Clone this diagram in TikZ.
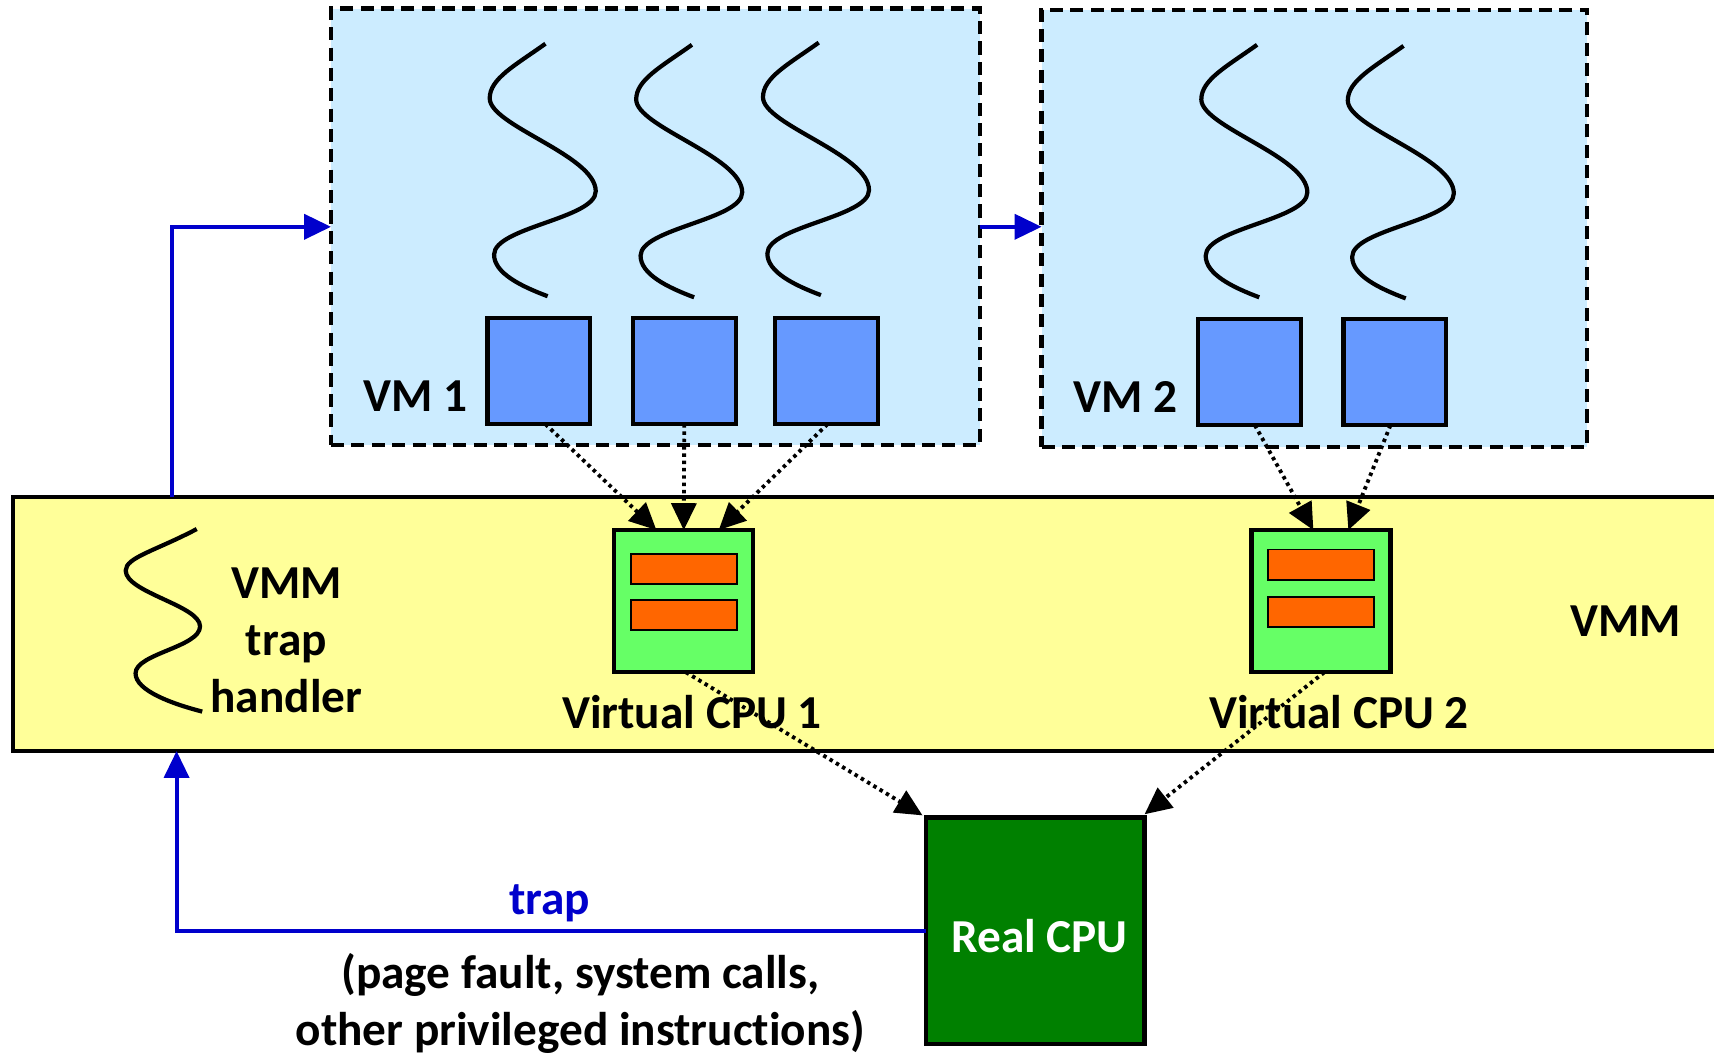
\documentclass[tikz,border=0pt]{standalone}
\usepackage{fontspec}
\setmainfont{Carlito}[Ligatures={NoCommon}]
\usetikzlibrary{arrows.meta,calc}
\definecolor{vmfill}{HTML}{CCECFF}
\definecolor{vmmfill}{HTML}{FFFF99}
\definecolor{sqfill}{HTML}{6699FF}
\definecolor{cpufill}{HTML}{66FF66}
\definecolor{regfill}{HTML}{FF6600}
\definecolor{realfill}{HTML}{008000}
\definecolor{trapblue}{HTML}{0000CC}
\tikzset{
  boxbase/.style={draw=black, line width=1.1pt, inner sep=0pt, outer sep=0pt},
  vmbox/.style={boxbase, fill=vmfill, dash pattern=on 3.4pt off 1.9pt},
  sqbox/.style={boxbase, fill=sqfill, minimum width=0.94cm, minimum height=0.97cm},
  cpubox/.style={boxbase, fill=cpufill, minimum width=1.27cm, minimum height=1.30cm},
  regbox/.style={draw=black, line width=0.5pt, fill=regfill, inner sep=0pt, outer sep=0pt, minimum width=0.97cm, minimum height=0.275cm},
  threadline/.style={line width=1.1pt},
  dotarrow/.style={line width=1.0pt, dash pattern=on 0.9pt off 1.0pt, -{Triangle[length=7pt,width=6.5pt]}},
  bluearrow/.style={trapblue, line width=1.0pt, -{Triangle[length=7pt,width=6.5pt]}},
  txt/.style={inner sep=0pt, align=center},
  vmthread/.pic={\draw[threadline] (0,0) .. controls (-28,20) and (-51,32) .. (-51,50)
      .. controls (-51,75) and (46,102) .. (46,135)
      .. controls (46,160) and (-47,168) .. (-47,193)
      .. controls (-47,210) and (-22,222) .. (2,231);},
  hthread/.pic={\draw[threadline] (0,0) .. controls (-38,20) and (-65,26) .. (-65,38)
      .. controls (-65,58) and (3,70) .. (3,89)
      .. controls (3,108) and (-56,114) .. (-56,132)
      .. controls (-56,148) and (-22,160) .. (5,167);}
}
\begin{document}
\begin{tikzpicture}[x=0.01cm, y=-0.01cm, font=\fontsize{12.3}{14.8}\selectfont\bfseries]
\path[use as bounding box, clip] (0,0) rectangle (1568,968);
\fill[white] (0,0) rectangle (1568,968);

% VM boxes
\node[vmbox, minimum width=5.93cm, minimum height=3.99cm] (vm1) at (599.5,207.5) {};
\node[vmbox, minimum width=4.99cm, minimum height=4.00cm] (vm2) at (1202.5,209) {};

% VMM layer
\node[boxbase, fill=vmmfill, minimum width=15.78cm, minimum height=2.32cm] (vmm) at (801,571) {};

% threads
\pic at (499,40) {vmthread};
\pic at (633,41) {vmthread};
\pic at (749,39) {vmthread};
\pic at (1150,41) {vmthread};
\pic at (1284,42) {vmthread};
\pic at (180,484) {hthread};

% virtual CPU squares in VMs
\node[sqbox] (s11) at (493,339.5) {};
\node[sqbox] (s12) at (626,339.5) {};
\node[sqbox] (s13) at (756,339.5) {};
\node[sqbox] (s21) at (1143,340.5) {};
\node[sqbox] (s22) at (1276,340.5) {};

% virtual CPUs
\node[cpubox] (vc1) at (625.5,550) {};
\node[regbox] (r11) at (625.5,520.5) {};
\node[regbox] (r12) at (625.5,563) {};
\node[cpubox] (vc2) at (1208.5,550) {};
\node[regbox] (r21) at (1208.5,516.5) {};
\node[regbox] (r22) at (1208.5,560) {};

% real CPU
\node[boxbase, fill=realfill, minimum width=2.0cm, minimum height=2.07cm] (real) at (947,851.5) {};
\node[txt, text=white] (realt) at (951,856) {Real CPU};

% labels
\node[txt] (vm1t) at (380,362) {VM 1};
\node[txt] (vm2t) at (1030,363) {VM 2};
\node[txt] (vmmt) at (1487,568) {VMM};
\node[txt] (ht) at (262,586) {VMM\\trap\\handler};
\node[txt] (vc1t) at (633,651) {Virtual CPU 1};
\node[txt] (vc2t) at (1225,651) {Virtual CPU 2};
\node[txt, text=trapblue] (trapt) at (503,826) {trap};
\node[txt, font=\fontsize{12.3}{15}\selectfont\bfseries] (why) at (531,918) {(page fault, system calls,\\other privileged instructions)};

% dotted mapping arrows
\draw[dotarrow] ($(s11.south)+(6,0)$) -- ($(vc1.north)+(-25,0)$);
\draw[dotarrow] (s12.south) -- (vc1.north);
\draw[dotarrow] ($(s13.south)+(1,0)$) -- ($(vc1.north)+(32,0)$);
\draw[dotarrow] ($(s21.south)+(5,0)$) -- ($(vc2.north)+(-7,0)$);
\draw[dotarrow] ($(s22.south)+(-4,0)$) -- ($(vc2.north)+(25,0)$);
\draw[dotarrow] ($(vc1.south)+(2,0)$) -- ($(real.north west)+(-3,-2)$);
\draw[dotarrow] ($(vc2.south)+(3,0)$) -- ($(real.north east)+(0,-3)$);

% blue control-flow arrows
\draw[bluearrow] ($(vmm.north west)+(146,0)$) |- (vm1.west);
\draw[bluearrow] (vm1.east) -- (vm1.east -| vm2.west);
\draw[bluearrow] (real.west) -| ($(vmm.south west)+(150,0)$);
\end{tikzpicture}
\end{document}
